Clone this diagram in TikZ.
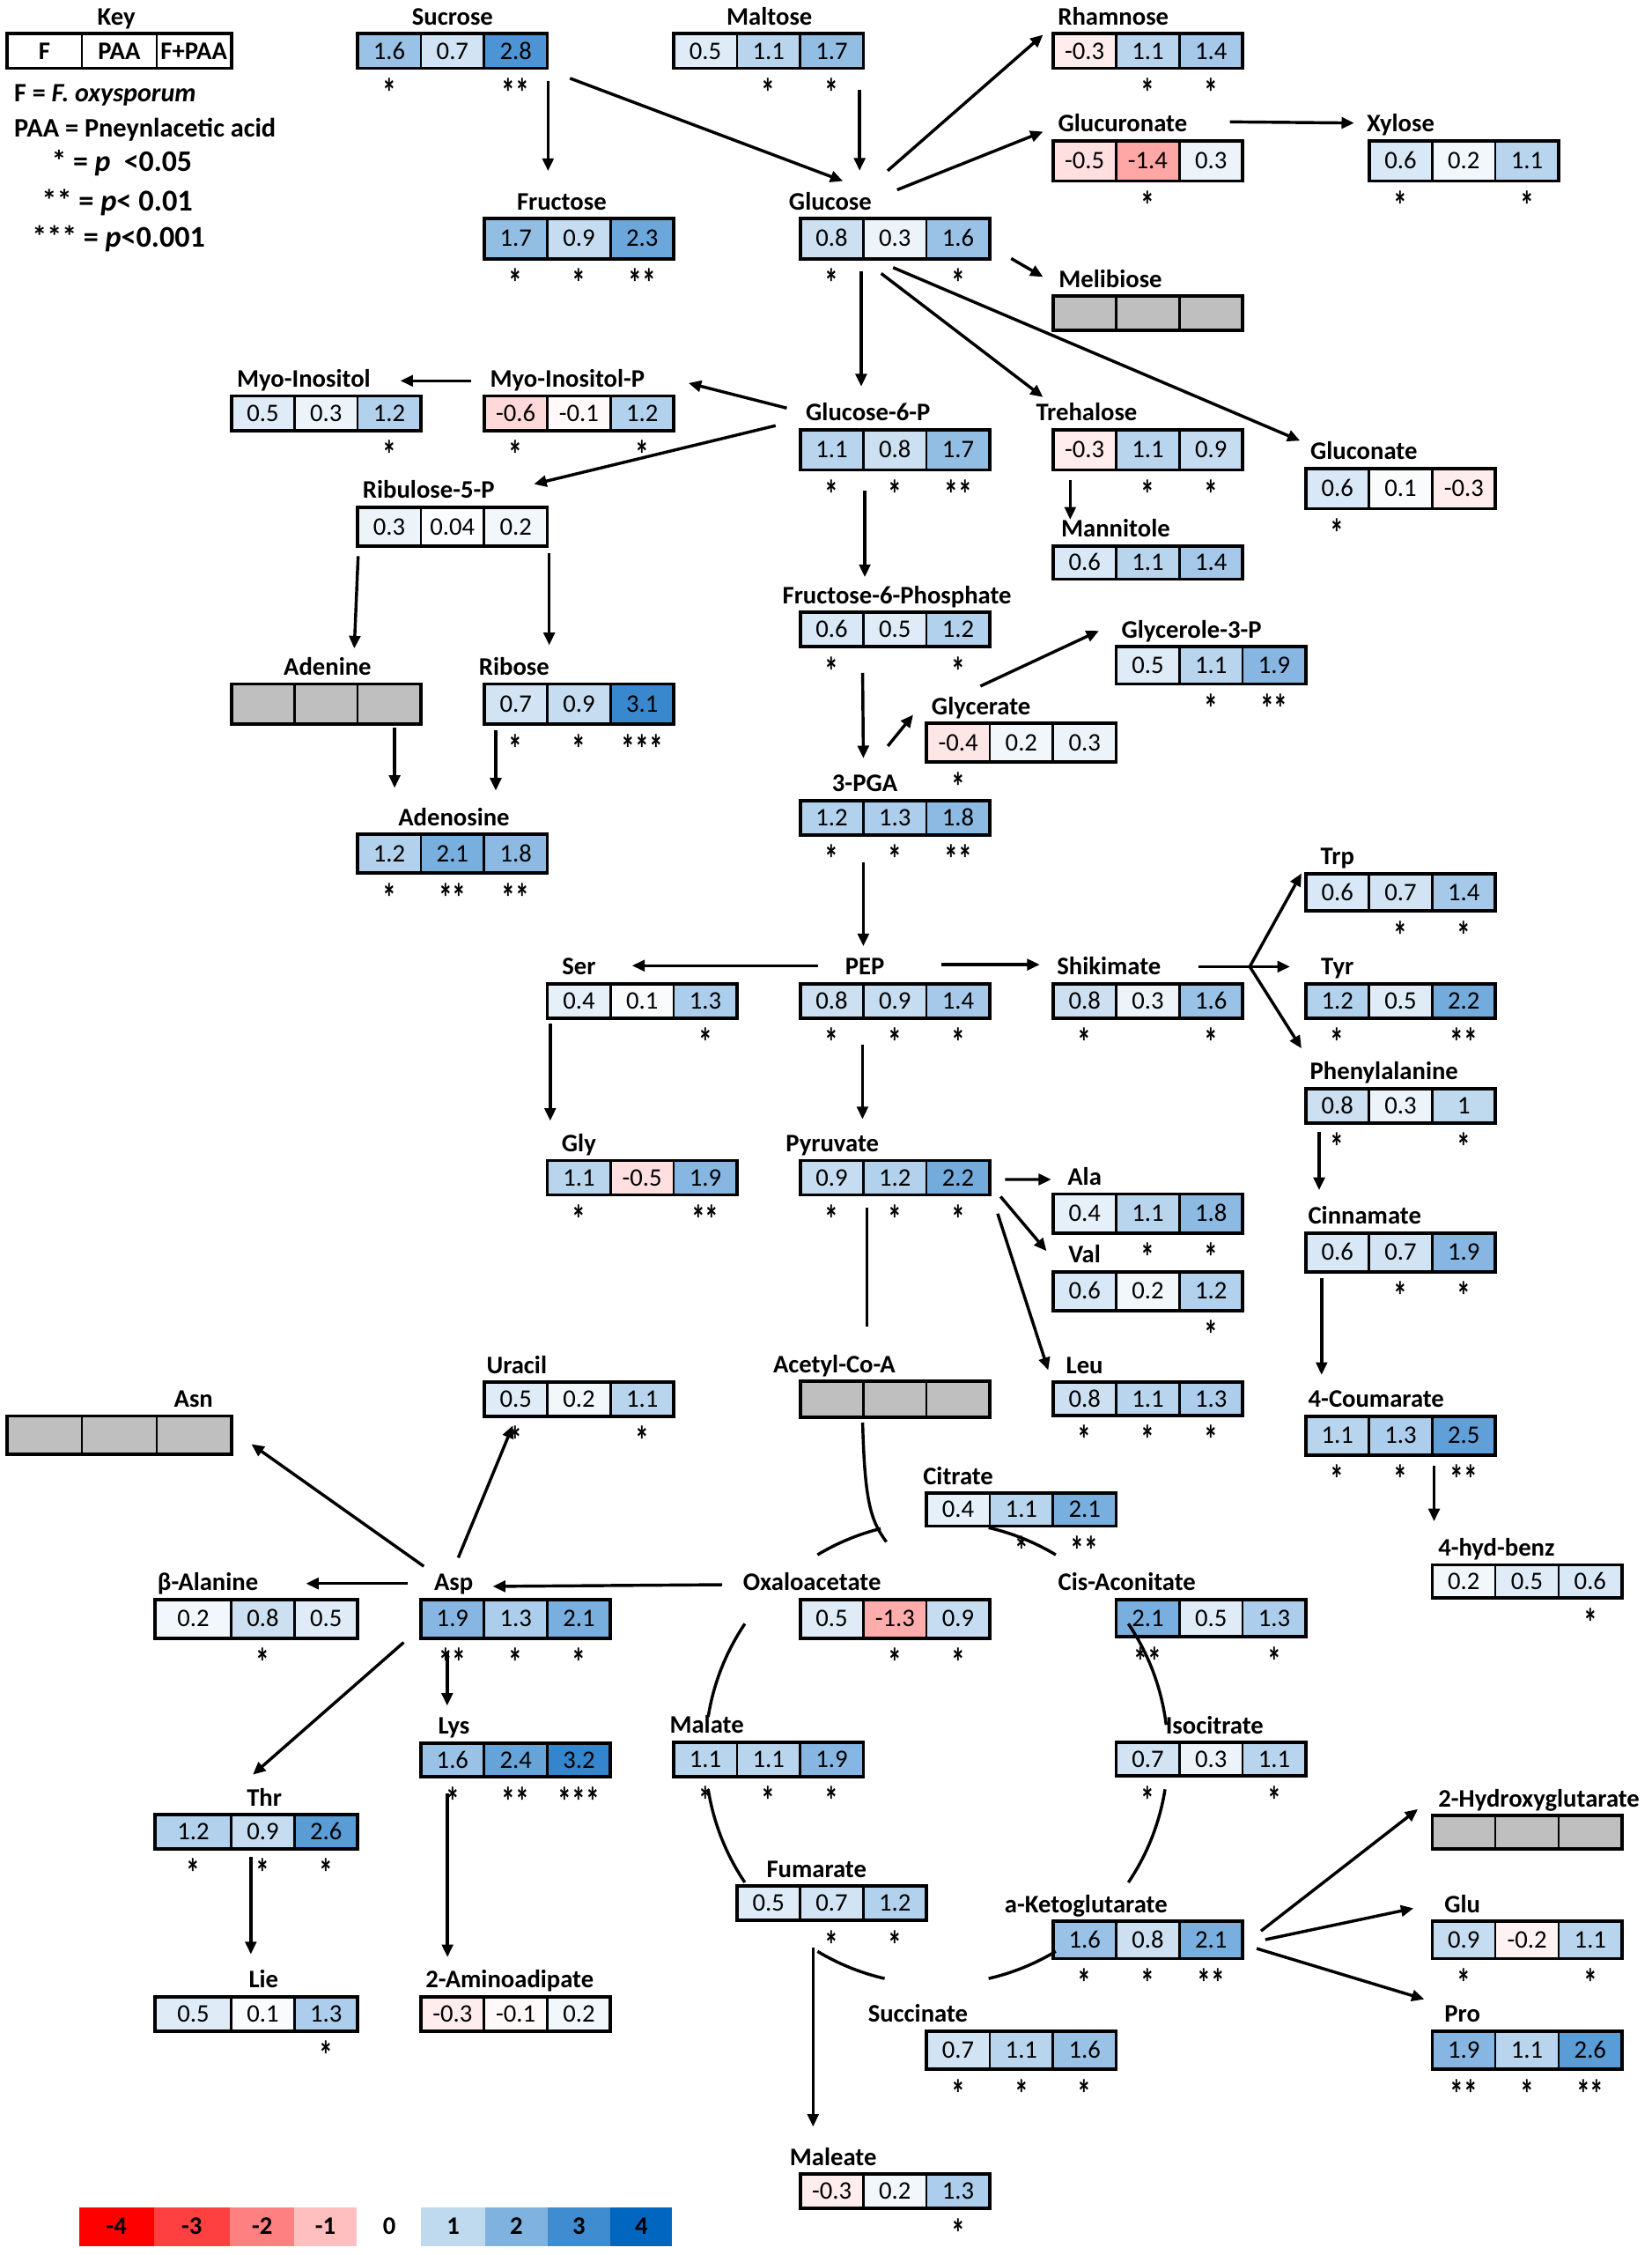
\documentclass[tikz,border=0pt]{standalone}
\usepackage{fontspec}
\setmainfont{Carlito}
\usepackage{tikz}
\usetikzlibrary{arrows.meta,calc}

\definecolor{upcol}{RGB}{0,102,192}
\definecolor{downcol}{RGB}{255,0,0}
\definecolor{nodata}{RGB}{191,191,191}

\tikzset{
  >={Triangle[length=5pt,width=4.4pt]},
  lbl/.style={font=\fontsize{10}{12}\selectfont\bfseries, inner sep=0pt, text height=6.4pt, text depth=0pt},
  keytxt/.style={lbl, anchor=west},
  num/.style={font=\fontsize{10}{12}\selectfont, inner sep=0pt, text height=6.4pt, text depth=0pt},
  sig/.style={font=\fontsize{11}{13}\selectfont\bfseries, inner sep=0pt, text height=7.4pt, text depth=0pt},
  cellline/.style={draw=black, line width=0.9pt},
  boxline/.style={draw=black, line width=1.3pt},
  conn/.style={line width=1.2pt},
}

\def\firstw{44}
% [height]{name}{top left}{values}{stars}{label}{label centre}
\newcommand{\metab}[7][25]{%
  \coordinate (#2) at (#3);
  \foreach \v [count=\i] in {#4}{%
    \pgfmathsetmacro\cx{\i==1 ? 0 : \firstw+44*(\i-2)}
    \pgfmathsetmacro\cw{\i==1 ? \firstw : 44}
    \ifdim \v pt<0pt \pgfmathsetmacro\pct{min(100,-25*\v)}\def\hue{downcol}%
    \else \pgfmathsetmacro\pct{min(100,25*\v)}\def\hue{upcol}\fi
    \draw[cellline, fill=\hue!\pct!white] ($(#2)+(\cx,0)$) rectangle ++(\cw,#1);
    \node[num] (#2-\i) at ($(#2)+(\cx+\cw/2,#1/2)$) {\v};
  }
  \foreach \s [count=\i] in {#5}{%
    \pgfmathsetmacro\cx{\i==1 ? 0 : \firstw+44*(\i-2)}
    \pgfmathsetmacro\cw{\i==1 ? \firstw : 44}
    \node[sig] (#2-s\i) at ($(#2)+(\cx+\cw/2,#1+20.5)$) {\scalebox{1}[1.45]{\s}};
  }
  \draw[boxline] (#2) rectangle ++(\firstw+88,#1);
  \node[lbl] (#2-l) at ($(#2)+(#7,-11.7)$) {#6};
}
% [height]{name}{top left}{cell width}{label}{label centre}
\newcommand{\nobox}[6][25]{%
  \coordinate (#2) at (#3);
  \foreach \i in {1,2,3}{%
    \draw[cellline, fill=nodata] ($(#2)+(#4*\i-#4,0)$) rectangle ++(#4,#1);
  }
  \draw[boxline] (#2) rectangle ++(3*#4,#1);
  \node[lbl] (#2-l) at ($(#2)+(#6,-11.7)$) {#5};
}

\begin{document}
\begin{tikzpicture}[x=0.02cm, y=0.02cm, yscale=-1]
\useasboundingbox (0,0) rectangle (1150,1569.3);

% key
\node[lbl] (key-l) at (81,12) {Key};
\coordinate (key) at (5,23.5);
\foreach \t [count=\i] in {F,PAA,F+PAA}{
  \draw[cellline] ($(key)+(52*\i-52,0)$) rectangle ++(52,24);
  \node[lbl] (key-\i) at ($(key)+(52*\i-26,12)$) {\t};
}
\draw[boxline] (key) rectangle ++(156,24);
\node[keytxt, font=\fontsize{10.5}{12}\selectfont\bfseries] (key-f) at (9.6,65) {F = \textit{F. oxysporum}};
\node[keytxt, font=\fontsize{10.6}{12}\selectfont\bfseries] (key-paa) at (9.6,89.9) {PAA = Pneynlacetic acid};
\node[keytxt, font=\fontsize{11.8}{14}\selectfont\bfseries] (key-p1) at (35.6,113.4) {* = \textit{p}\ \ <0.05};
\node[keytxt, font=\fontsize{12}{14}\selectfont\bfseries] (key-p2) at (28.7,141) {** = \textit{p}< 0.01};
\node[keytxt, font=\fontsize{11.9}{14}\selectfont\bfseries] (key-p3) at (21.9,166.6) {*** = \textit{p}<0.001};

% metabolites
\metab[24]{sucr}{249,23.5}{1.6,0.7,2.8}{*,,**}{Sucrose}{66}
\metab[24]{malt}{469,23.5}{0.5,1.1,1.7}{,*,*}{Maltose}{66.6}
\metab[24]{rham}{733,23.5}{-0.3,1.1,1.4}{,*,*}{Rhamnose}{42}
\metab[28]{glcA}{733,98}{-0.5,-1.4,0.3}{,*,}{Glucuronate}{48.5}
\metab[28]{xyl}{953,98}{0.6,0.2,1.1}{*,,*}{Xylose}{22}
\metab[28]{fru}{337,152}{1.7,0.9,2.3}{*,*,**}{Fructose}{54}
\metab[28]{glc}{557,152}{0.8,0.3,1.6}{*,,*}{Glucose}{21}
\nobox[24]{meli}{733,206}{44}{Melibiose}{40}
\metab[24]{myo}{161,275.6}{0.5,0.3,1.2}{,,*}{Myo-Inositol}{50.4}
\metab[24]{myoP}{337,275.6}{-0.6,-0.1,1.2}{*,,*}{Myo-Inositol-P}{58}
\metab[28]{g6p}{557,299}{1.1,0.8,1.7}{*,*,**}{Glucose-6-P}{47.3}
\metab[28]{treh}{733,299}{-0.3,1.1,0.9}{,*,*}{Trehalose}{23.4}
\metab[28]{glcn}{909,326}{0.6,0.1,-0.3}{*,,}{Gluconate}{40.4}
\metab[27]{ru5p}{249,353}{0.3,0.04,0.2}{,,}{Ribulose-5-P}{49.4}
\metab[23]{mann}{733,380}{0.6,1.1,1.4}{,,}{Mannitole}{43.6}
\metab[24]{f6p}{557,426}{0.6,0.5,1.2}{*,,*}{Fructose-6-Phosphate}{67.4}
\metab[26]{g3p}{777,450}{0.5,1.1,1.9}{,*,**}{Glycerole-3-P}{52.5}
\nobox[28]{ade}{161,476}{44}{Adenine}{67}
\metab[28]{rib}{337,476}{0.7,0.9,3.1}{*,*,***}{Ribose}{20.9}
\metab[27]{glyc}{645,503.4}{-0.4,0.2,0.3}{*,,}{Glycerate}{38}
\metab[24]{pga}{557,557}{1.2,1.3,1.8}{*,*,**}{3-PGA}{45}
\metab[27]{ado}{249,580.6}{1.2,2.1,1.8}{*,**,**}{Adenosine}{67}
\metab[26]{trp}{909,608}{0.6,0.7,1.4}{,*,*}{Trp}{22}
\metab[24]{ser}{381,684.5}{0.4,0.1,1.3}{,,*}{Ser}{22}
\metab[24]{pep}{557,684.5}{0.8,0.9,1.4}{*,*,*}{PEP}{45}
\metab[24]{shik}{733,684.5}{0.8,0.3,1.6}{*,,*}{Shikimate}{39}
\metab[24]{tyr}{909,684.5}{1.2,0.5,2.2}{*,,**}{Tyr}{22}
\metab[24]{phe}{909,757.5}{0.8,0.3,1}{*,,*}{Phenylalanine}{54.5}
\metab[24]{gly}{381,807.6}{1.1,-0.5,1.9}{*,,**}{Gly}{22}
\metab[24]{pyr}{557,807.6}{0.9,1.2,2.2}{*,*,*}{Pyruvate}{22.4}
\metab[27]{ala}{733,831}{0.4,1.1,1.8}{,*,*}{Ala}{22}
\metab[27]{val}{733,885}{0.6,0.2,1.2}{,,*}{Val}{22}
\metab[27]{cinn}{909,858}{0.6,0.7,1.9}{,*,*}{Cinnamate}{41}
\metab[23.5]{ura}{337,962}{0.5,0.2,1.1}{*,,*}{Uracil}{22.7}
\nobox[25]{accoa}{557,961.4}{44}{Acetyl-Co-A}{23.8}
\metab[23]{leu}{733,962}{0.8,1.1,1.3}{*,*,*}{Leu}{22}
\nobox[26.5]{asn}{5,985.4}{52}{Asn}{129.7}
\metab[27]{coum}{909,985.5}{1.1,1.3,2.5}{*,*,**}{4-Coumarate}{49}
\metab[23]{cit}{645,1039}{0.4,1.1,2.1}{,*,**}{Citrate}{22}
\metab[23]{hbz}{997,1089}{0.2,0.5,0.6}{,,*}{4-hyd-benz}{44.7}
\def\firstw{53}
\metab[27]{bala}{108,1113}{0.2,0.8,0.5}{,*,}{β-Alanine}{36.7}
\metab[23.5]{thr}{108,1263}{1.2,0.9,2.6}{*,*,*}{Thr}{76}
\metab[24]{lie}{108,1389.5}{0.5,0.1,1.3}{,,*}{Lie}{75.5}
\def\firstw{44}
\metab[27]{asp}{293,1113}{1.9,1.3,2.1}{**,*,*}{Asp}{22.8}
\metab[27]{oaa}{557,1113}{0.5,-1.3,0.9}{,*,*}{Oxaloacetate}{8.3}
\metab[26]{cis}{777,1113}{2.1,0.5,1.3}{**,,*}{Cis-Aconitate}{7.5}
\metab[23.5]{lys}{293,1213}{1.6,2.4,3.2}{*,**,***}{Lys}{23}
\metab[24]{mal}{469,1212.3}{1.1,1.1,1.9}{*,*,*}{Malate}{23}
\metab[23.5]{icit}{777,1212.5}{0.7,0.3,1.1}{*,,*}{Isocitrate}{68.5}
\nobox[23]{hglu}{997,1263.5}{44}{2-Hydroxyglutarate}{74.3}
\metab[24]{fum}{513,1312.5}{0.5,0.7,1.2}{,*,*}{Fumarate}{55.4}
\metab[26]{akg}{733,1337}{1.6,0.8,2.1}{*,*,**}{a-Ketoglutarate}{23}
\metab[26]{glu}{997,1337}{0.9,-0.2,1.1}{*,,*}{Glu}{21}
\metab[24]{aad}{293,1389.5}{-0.3,-0.1,0.2}{,,}{2-Aminoadipate}{61.8}
\metab[26.5]{succ}{645,1413.5}{0.7,1.1,1.6}{*,*,*}{Succinate}{-6}
\metab[26.5]{pro}{997,1413.5}{1.9,1.1,2.6}{**,*,**}{Pro}{21}
\metab[24]{male}{557,1513}{-0.3,0.2,1.3}{,,*}{Maleate}{23}

% sugars
\path[->,conn]
  ($(sucr)+(132.5,32.7)$) edge ($(fru)+(44.5,-33)$)
  ($(sucr)+(147.8,31)$) edge ($(glc)+(29.8,-26)$)
  ($(malt)+(129.4,39)$) edge ($(glc)+(41.4,-33.2)$)
  ($(glc)+(60.9,-33.2)$) edge ($(rham)+(-6.9,0.7)$)
  ($(glc)+(67.5,-19.9)$) edge ($(glcA)+(-6.9,-6.4)$)
  ($(glcA)+(123.1,-13.2)$) edge ($(xyl)+(-10.3,-12.4)$)
  ($(glc)+(146.9,27.9)$) edge ($(meli)+(-6.9,-13.3)$)
  ($(glc)+(42.5,37)$) edge ($(g6p)+(42.5,-30)$)
  ($(glc)+(56.4,38.3)$) edge ($(treh)+(-6.9,-22.6)$)
  ($(glc)+(64.7,34.2)$) edge ($(glcn)+(-4,-19.3)$)
  ($(myoP)+(-9,-10.6)$) edge ($(myo)+(117.7,-10.6)$)
  ($(g6p)+(-9.3,-15)$) edge ($(myoP)+(142.3,-9)$)
  ($(g6p)+(-17.1,-2.8)$) edge ($(ru5p)+(122.7,-16.1)$)
  ($(treh)+(12,35)$) edge ($(mann)+(12,-18.4)$)
  ($(g6p)+(45,42.7)$) edge ($(f6p)+(45,-24.4)$)
  ($(ru5p)+(0.3,34)$) edge ($(ade)+(85.6,-24.7)$)
  ($(ru5p)+(133.3,32)$) edge ($(rib)+(45.3,-27)$)
  ($(ade)+(113.7,30.6)$) edge ($(ado)+(25.7,-32.3)$)
  ($(rib)+(8.1,32.3)$) edge ($(ado)+(96.1,-30.4)$);
%
% glycolysis and amino acids
\path[->,conn]
  ($(f6p)+(43.5,42.2)$) edge ($(pga)+(44,-29.3)$)
  ($(pga)+(61,-37.8)$) edge ($(glyc)+(-9.3,-6)$)
  ($(glyc)+(37.5,-25.9)$) edge ($(g3p)+(-12,-11)$)
  ($(pga)+(44,43.4)$) edge ($(pep)+(44,-26)$)
  ($(pep)+(12.3,-12.5)$) edge ($(ser)+(59,-12.5)$)
  ($(pep)+(98.5,-13.2)$) edge ($(shik)+(-9.2,-13.2)$)
  ($(ser)+(2,27.5)$) edge ($(gly)+(2,-27.6)$)
  ($(pep)+(43.4,42.4)$) edge ($(pyr)+(43.4,-28.7)$)
  ($(pyr)+(142.7,13.2)$) edge ($(ala)+(-1.2,-10.2)$)
  ($(pyr)+(139.5,25.1)$) edge ($(val)+(-4.5,-14.4)$)
  ($(pyr)+(137.5,37)$) edge ($(leu)+(-3.3,-8.5)$)
  ($(phe)+(9.3,30.1)$) edge ($(cinn)+(9.3,-29.8)$)
  ($(cinn)+(11,31.7)$) edge ($(coum)+(11,-28.7)$)
  ($(coum)+(89.3,34.5)$) edge ($(hbz)+(1.3,-30.3)$);
\coordinate (fork) at ($(shik)+(137,-11.8)$);
\draw[conn] ($(shik)+(101,-11.8)$) -- (fork);
\path[->,conn]
  (fork) edge ($(trp)+(-3,-0.2)$)
  (fork) edge ($(tyr)+(-11,-11.8)$)
  (fork) edge ($(phe)+(-3,-27.9)$);
\draw[conn] ($(pyr)+(46.4,32.9)$) -- ($(accoa)+(46.4,-38)$);
%
% aspartate family and glutamate family
\path[->,conn]
  ($(oaa)+(-54.3,-10.2)$) edge ($(asp)+(50,-9)$)
  ($(asp)+(-9,-11)$) edge ($(bala)+(105,-11)$)
  ($(asp)+(2,-23)$) edge ($(asn)+(170,19.6)$)
  ($(asp)+(26,-29)$) edge ($(ura)+(20,30)$)
  ($(asp)+(-12,30)$) edge ($(thr)+(68,-28)$)
  ($(asp)+(18.3,36.6)$) edge ($(lys)+(18.3,-26)$)
  ($(lys)+(18.5,35)$) edge ($(aad)+(18.5,-27.5)$)
  ($(thr)+(66.6,29)$) edge ($(lie)+(66.6,-29.5)$)
  ($(akg)+(144.8,6.8)$) edge ($(hglu)+(-10,-4.5)$)
  ($(akg)+(147.8,12.8)$) edge ($(glu)+(-13,-9)$)
  ($(akg)+(141.8,19)$) edge ($(pro)+(-5.5,-22.2)$)
  ($(fum)+(53,43)$) edge ($(male)+(9,-33)$);
%
% TCA cycle
\coordinate (tca) at (652,1220);
\foreach \a/\b in {-121/-104, -77/-59, -34/-7, 9/34, 59/77, 103/121, 146/171, 189/214}
  \draw[conn] ($(tca)+(\a:161)$) arc[start angle=\a, end angle=\b, radius=161];
\draw[conn] ($(accoa)+(43.5,28.6)$) .. controls ($(accoa)+(45,83.6)$) and ($(accoa)+(49,96.6)$) .. ($(tca)+(-35,-147)$);

% colour scale
\foreach \v/\xa/\xb in {-4/55/107, -3/107/160, -2/160/205, -1/205/248, 1/293/338, 2/338/381, 3/381/425, 4/425/468}{
  \ifdim \v pt<0pt \pgfmathsetmacro\pct{-25*\v}\def\hue{downcol}\else\pgfmathsetmacro\pct{25*\v}\def\hue{upcol}\fi
  \fill[fill=\hue!\pct!white] (\xa,1536) rectangle (\xb,1563);
  \node[lbl] (scale\v) at ({(\xa+\xb)/2},1549.5) {\v};
}
\node[lbl] (scale0) at (271,1549.5) {0};
\end{tikzpicture}
\end{document}
